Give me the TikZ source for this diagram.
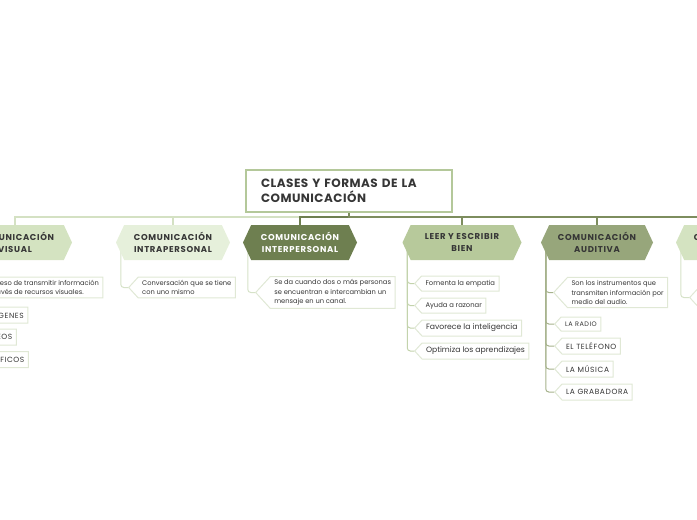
\documentclass[tikz,border=0pt]{standalone}
\usepackage{fontspec}
\usepackage{xcolor}
\usepackage{tikz}
\usetikzlibrary{shapes.symbols,backgrounds}
\setmainfont{Poppins}
\newfontfamily\spacedfont[LetterSpace=8]{Poppins}
\newfontfamily\titlefont[LetterSpace=4]{Poppins}
\definecolor{titleborder}{HTML}{B4C89A}
\definecolor{visualfill}{HTML}{D4E3C1}
\definecolor{intrafill}{HTML}{E6F0DB}
\definecolor{interfill}{HTML}{6E7F50}
\definecolor{leerfill}{HTML}{B7C99B}
\definecolor{auditfill}{HTML}{97A67B}
\definecolor{leafborder}{HTML}{E0E8D5}
\definecolor{buslight}{HTML}{D4E1C3}
\definecolor{busdark}{HTML}{7D8D5E}
\definecolor{twiglight}{HTML}{D6E2C8}
\definecolor{twigmid}{HTML}{C3D3AC}
\definecolor{twigdark}{HTML}{A6B28C}
\definecolor{textdark}{HTML}{363636}

\tikzset{
  branch/.style={signal, signal to=east and west, signal pointer angle=130,
    minimum width=114pt, minimum height=35pt, inner sep=0pt, align=center,
    text=textdark, font={\spacedfont\bfseries\fontsize{8.5}{12.5}\selectfont}},
  leaf/.style={signal, signal to=west, signal pointer angle=95, anchor=west,
    draw=leafborder, line width=1pt, fill=white, inner xsep=4pt, inner ysep=3pt,
    align=left, text=textdark, font={\fontsize{6.7}{9.5}\selectfont}},
  capsleaf/.style={leaf, minimum height=16pt, font={\spacedfont\fontsize{7.5}{9}\selectfont}},
  textleaf/.style={leaf, minimum height=15pt, font={\fontsize{6.8}{9}\selectfont}},
  bigleaf/.style={leaf, minimum height=16pt, font={\fontsize{7.7}{9}\selectfont}},
  bus/.style={line width=1.2pt},
  twig/.style={line width=1pt, rounded corners=3pt},
}

\begin{document}
\begin{tikzpicture}[x=1pt, y=-1pt]
        \useasboundingbox (0,0) rectangle (697,520);

        % Title
        \node[draw=titleborder, line width=2pt, text width=176pt, inner xsep=15pt,
              minimum height=42pt, align=left, text=textdark,
              font={\titlefont\bfseries\fontsize{12}{15}\selectfont}] (title) at (349,191)
              {CLASES Y FORMAS DE LA\\COMUNICACIÓN};

        % Branches
        \node[branch, fill=visualfill] (visual) at (15,242.5) {COMUNICACIÓN\\VISUAL};
        \node[branch, fill=intrafill] (intra) at (173,242.5) {COMUNICACIÓN\\INTRAPERSONAL};
        \node[branch, fill=interfill, text=white] (inter) at (300,242.5) {COMUNICACIÓN\\INTERPERSONAL};
        \node[branch, fill=leerfill, minimum width=119pt] (leer) at (462,242.5) {LEER Y ESCRIBIR\\BIEN};
        \node[branch, fill=auditfill, minimum width=112pt] (audit) at (597,242.5) {COMUNICACIÓN\\AUDITIVA};
        \node[branch, fill=visualfill] (otra) at (733,242.5) {COMUNICACIÓN\\\mbox{}};

        % Leaves
        \node[leaf] (vis1) at (-29,287.5) {Proceso de transmitir información\\a través de recursos visuales.};
        \node[capsleaf] (vis2) at (-29,315) {IMÁGENES};
        \node[capsleaf] (vis3) at (-29,337) {VIDEOS};
        \node[capsleaf] (vis4) at (-29,359.5) {GRÁFICOS};

        \node[leaf] (intra1) at (128,287.5) {Conversación que se tiene\\con uno mismo};

        \node[leaf] (inter1) at (255,292.5) {Se da cuando dos o más personas\\se encuentran e intercambian un\\mensaje en un canal.};

        \node[textleaf] (leer1) at (414,283.5) {Fomenta la empatia};
        \node[textleaf] (leer2) at (414,305.5) {Ayuda a razonar};
        \node[bigleaf] (leer3) at (414,328) {Favorece la inteligencia};
        \node[bigleaf] (leer4) at (414,351) {Optimiza los aprendizajes};

        \node[leaf] (audit1) at (553,292.5) {Son los instrumentos que\\transmiten información por\\medio del audio.};
        \node[capsleaf, minimum height=14pt, font={\spacedfont\fontsize{6.5}{9}\selectfont}] (audit2) at (554,324) {LA RADIO};
        \node[capsleaf] (audit3) at (554,346) {EL TELÉFONO};
        \node[capsleaf] (audit4) at (554,369) {LA MÚSICA};
        \node[capsleaf] (audit5) at (554,392) {LA GRABADORA};

        \node[leaf, minimum width=80pt, minimum height=25pt] (otra1) at (689,297.5) {};

        % Lines
        \begin{scope}[on background layer]
        \draw[bus, buslight] (title.south) -- ++(0,4) -| (visual.north);
        \draw[bus, buslight] (title.south) -- ++(0,4) -| (intra.north);
        \draw[bus, interfill] (title.south) -- ++(0,4) -| (inter.north);
        \draw[bus, busdark] (title.south) -- ++(0,4) -| (leer.north);
        \draw[bus, busdark] (title.south) -- ++(0,4) -| (audit.north);
        \draw[bus, busdark] (title.south) -- ++(0,4) -| (otra.north);

        \foreach \leaf in {vis1,vis2,vis3,vis4}
          \draw[twig, twiglight] (visual.west) ++(5,0) |- (\leaf.west);
        \draw[twig, twiglight] (intra.west) ++(5,0) |- (intra1.west);
        \draw[twig, twiglight] (inter.west) ++(5,0) |- (inter1.west);
        \foreach \leaf in {leer1,leer2,leer3,leer4}
          \draw[twig, twigmid] (leer.west) ++(5,0) |- (\leaf.west);
        \foreach \leaf in {audit1,audit2,audit3,audit4,audit5}
          \draw[twig, twigdark] (audit.west) ++(5,0) |- (\leaf.west);
        \draw[twig, twiglight] (otra.west) ++(5,0) |- (otra1.west);
        \end{scope}
\end{tikzpicture}
\end{document}
